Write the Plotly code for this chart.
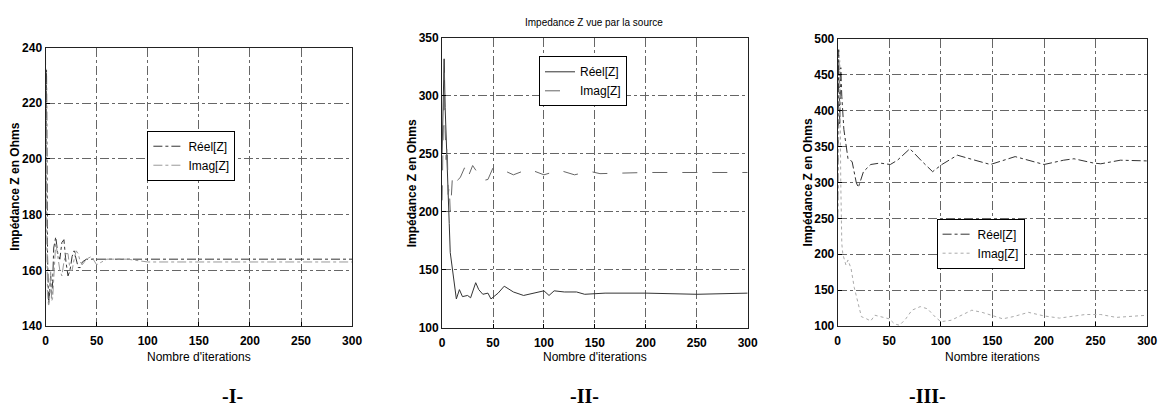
import plotly.graph_objects as go

# ---- Panel I : impedance, case I ----
it1_reel = [0, 1, 2, 3, 4, 5, 6, 7, 8, 10, 12, 14, 16, 18, 20, 22, 24, 26, 28, 30,
            32, 34, 36, 40, 45, 50, 60, 80, 100, 150, 200, 250, 300]
z1_reel = [150, 232, 165, 148, 152, 158, 150, 156, 168, 172, 166, 164, 170, 171, 163, 158,
           160, 165, 167, 164, 161, 161, 163, 164, 164, 163.8, 164, 164, 164, 164, 164, 164, 164]
it1_imag = [0, 1, 2, 3, 4, 5, 6, 7, 8, 9, 10, 12, 14, 16, 18, 20, 22, 24, 26, 28, 30,
            32, 34, 36, 40, 45, 50, 55, 60, 80, 100, 150, 200, 250, 300]
z1_imag = [237, 200, 152, 147, 150, 160, 149, 150, 158, 166, 170, 165, 160, 158, 163, 166,
           166, 160, 160, 164, 167, 166, 163, 162, 164, 165, 162, 163, 164, 164, 163, 163,
           163, 163, 163]

# ---- Panel II : impedance seen by the source ----
it2_reel = [0, 1, 2, 3, 4, 5, 6, 7, 8, 10, 12, 14, 17, 20, 25, 28, 33, 36, 40, 45, 48,
            55, 61, 70, 80, 90, 100, 105, 110, 120, 132, 140, 160, 200, 250, 300]
z2_reel = [250, 300, 332, 290, 260, 230, 215, 190, 165, 152, 140, 125, 133, 127, 128, 126,
           139, 133, 129, 130, 125, 130, 136, 131, 128, 130, 132, 128, 132, 131, 131, 129,
           130, 130, 129, 130]
it2_imag = [0, 1, 2, 3, 4, 5, 6, 7, 8, 9, 10, 12, 14, 16, 18, 22, 25, 30, 35, 40, 45,
            50, 55, 60, 70, 85, 100, 115, 130, 145, 155, 200, 250, 300]
z2_imag = [210, 280, 320, 270, 245, 258, 215, 222, 200, 212, 228, 222, 226, 228, 230, 238,
           229, 240, 233, 227, 228, 238, 237, 236, 232, 237, 232, 236, 232, 235, 233, 234,
           234, 234]

# ---- Panel III : impedance, case III ----
it3_reel = [0, 1, 2, 3, 4, 6, 10, 14, 18, 20, 25, 32, 41, 51, 58, 70, 82, 92, 101, 116,
            133, 148, 172, 200, 219, 229, 248, 255, 274, 300]
z3_reel = [250, 485, 380, 460, 420, 374, 333, 329, 300, 293, 315, 325, 327, 325, 331, 347,
           329, 315, 325, 338, 331, 325, 336, 325, 331, 333, 327, 326, 331, 330]
it3_imag = [0, 1, 2, 3, 4, 5, 8, 10, 13, 16, 20, 23, 28, 32, 36, 42, 50, 55, 60, 66, 72,
            80, 87, 95, 100, 110, 120, 130, 140, 150, 160, 170, 185, 200, 215, 240, 255,
            270, 285, 300]
z3_imag = [250, 420, 470, 300, 215, 200, 185, 192, 180, 154, 130, 113, 110, 107, 115, 113,
           110, 103, 101, 110, 122, 127, 124, 112, 106, 108, 115, 122, 119, 114, 110, 113,
           119, 114, 111, 116, 116, 112, 113, 115]

x_ticks = [0, 50, 100, 150, 200, 250, 300]
y1_ticks = [140, 160, 180, 200, 220, 240]
y2_ticks = [100, 150, 200, 250, 300, 350]
y3_ticks = [100, 150, 200, 250, 300, 350, 400, 450, 500]

W, H = 1176, 420
NARROW = "Liberation Sans Narrow, Arial Narrow, sans-serif"


def px_x(p):
    return p / W


def px_y(p):
    return 1 - p / H


fig = go.Figure()

# (x-domain px, y-domain px from top, tick values, y-range)
panels = [
    ((43, 353), (42, 330), y1_ticks, [140, 240]),
    ((444, 753), (32, 332), y2_ticks, [100, 350]),
    ((844, 1157), (33, 330), y3_ticks, [100, 500]),
]

traces = [
    (it1_reel, z1_reel, "Réel[Z]", dict(color="#333333", width=1, dash="dashdot"), 1),
    (it1_imag, z1_imag, "Imag[Z]", dict(color="#999999", width=1, dash="dashdot"), 1),
    (it2_reel, z2_reel, "Réel[Z]", dict(color="#333333", width=1), 2),
    (it2_imag, z2_imag, "Imag[Z]", dict(color="#666666", width=1, dash="longdash"), 2),
    (it3_reel, z3_reel, "Réel[Z]", dict(color="#333333", width=1, dash="dashdot"), 3),
    (it3_imag, z3_imag, "Imag[Z]", dict(color="#aaaaaa", width=1, dash="dot"), 3),
]

for xs, ys, name, line, k in traces:
    suffix = "" if k == 1 else str(k)
    fig.add_trace(go.Scatter(
        x=xs, y=ys, mode="lines", name=name, line=line,
        xaxis="x" + suffix, yaxis="y" + suffix,
        legend="legend" + suffix,
    ))

axis_common = dict(
    showline=True, linecolor="#222222", linewidth=1, mirror=True,
    showgrid=True, gridcolor="#666666", gridwidth=1, griddash="dashdot",
    zeroline=False, ticks="inside", ticklen=4, tickcolor="black",
    tickfont=dict(family=NARROW, size=12, color="black", weight="bold"),
)

layout = dict(
    width=W, height=H, margin=dict(l=0, r=0, t=0, b=0),
    paper_bgcolor="white", plot_bgcolor="white", showlegend=True,
)

legend_pos = [(146, 128), (542, 51), (944, 219)]

for i, ((x0, x1), (yt, yb), yt_vals, yr) in enumerate(panels):
    k = i + 1
    suffix = "" if k == 1 else str(k)
    layout["xaxis" + suffix] = dict(
        axis_common, domain=[px_x(x0), px_x(x1)], range=[0, 300],
        tickvals=x_ticks, anchor="y" + suffix, ticklabelstandoff=4,
    )
    layout["yaxis" + suffix] = dict(
        axis_common, domain=[px_y(yb), px_y(yt)], range=yr,
        tickvals=yt_vals, anchor="x" + suffix,
    )
    lx, ly = legend_pos[i]
    layout["legend" + suffix] = dict(
        x=px_x(lx), y=px_y(ly), xanchor="left", yanchor="top",
        bordercolor="black", borderwidth=1, bgcolor="white",
        font=dict(family=NARROW, size=12, color="black"),
        tracegroupgap=2,
    )

fig.update_layout(**layout)

# axis titles and panel captions
x_titles = ["Nombre d'iterations", "Nombre d'iterations", "Nombre iterations"]
ytitle_x = [12, 414, 814]
for i, ((x0, x1), (yt, yb), _, _) in enumerate(panels):
    fig.add_annotation(
        x=px_x((x0 + x1) / 2), y=px_y(362), xref="paper", yref="paper",
        xanchor="center", yanchor="middle",
        text=x_titles[i], showarrow=False,
        font=dict(family=NARROW, size=12, color="black"),
    )
    fig.add_annotation(
        x=px_x(ytitle_x[i]), y=px_y((yt + yb) / 2), xref="paper", yref="paper",
        xanchor="center", yanchor="middle",
        text="<b>Impédance Z en Ohms</b>", textangle=-90, showarrow=False,
        font=dict(family="Liberation Sans, Arial, sans-serif", size=12, color="black"),
    )

fig.add_annotation(
    x=px_x(598), y=px_y(16), xref="paper", yref="paper",
    xanchor="center", yanchor="middle",
    text="Impedance Z vue par la source", showarrow=False,
    font=dict(family=NARROW, size=10, color="black"),
)

captions = ["-I-", "-II-", "-III-"]
caption_x = [232, 588, 935]
for c, cx in zip(captions, caption_x):
    fig.add_annotation(
        x=px_x(cx), y=px_y(402), xref="paper", yref="paper",
        xanchor="center", yanchor="middle",
        text="<b>" + c + "</b>", showarrow=False,
        font=dict(family="Liberation Serif, Times New Roman, serif", size=20, color="black"),
    )

fig.write_html("out.html")
